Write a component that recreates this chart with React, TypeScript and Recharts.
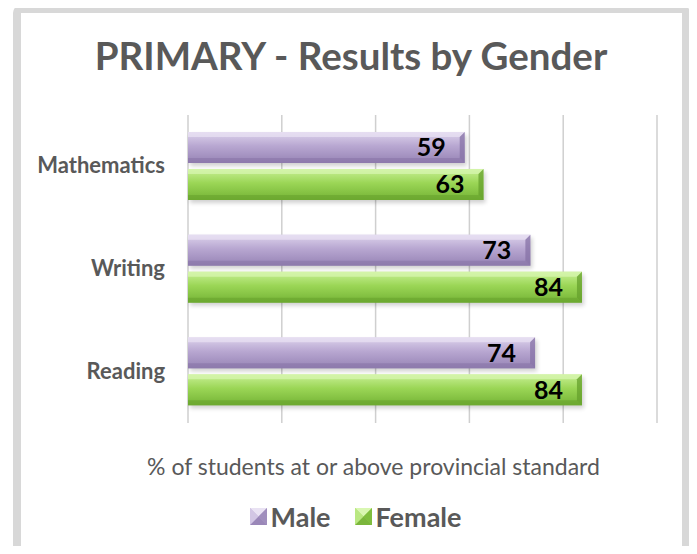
import React from "react";
import {
  BarChart,
  Bar,
  XAxis,
  YAxis,
  CartesianGrid,
  Legend,
  LabelList,
} from "recharts";

const subjects = ["Mathematics", "Writing", "Reading"];
const maleValues = [59, 73, 74];
const femaleValues = [63, 84, 84];
const xTicks = [0, 20, 40, 60, 80, 100];

const FONT = "Lato, 'Open Sans', sans-serif";
const GRAY_TEXT = "#595959";

const PALETTE = {
  male: { top: "#ddd3ec", mid: "#b8a7d1", bottom: "#9683b5", light: "#e9e2f3", dark: "#8672a6" },
  female: { top: "#c8f095", mid: "#9bd656", bottom: "#74b335", light: "#d9f7b2", dark: "#66a02c" },
};

type Pal = typeof PALETTE.male;

function bevelShape(id: string, pal: Pal) {
  return (props: any) => {
    const { x, y, width, height } = props;
    if (!width || width <= 0) return <g />;
    const b = 5;
    const r = x + width;
    const btm = y + height;
    return (
      <g>
        <rect x={x + 2} y={y + 3} width={width} height={height} fill="#000" opacity={0.18} filter="url(#barShadow)" />
        <rect x={x} y={y} width={width} height={height} fill={`url(#${id})`} />
        <polygon points={`${x},${y} ${r},${y} ${r - b},${y + b} ${x},${y + b}`} fill={pal.light} opacity={0.7} />
        <polygon points={`${x},${btm - b} ${r - b},${btm - b} ${r},${btm} ${x},${btm}`} fill={pal.dark} opacity={0.55} />
        <polygon points={`${r - b},${y + b} ${r},${y} ${r},${btm} ${r - b},${btm - b}`} fill={pal.dark} opacity={0.75} />
      </g>
    );
  };
}

function Icon({ pal }: { pal: Pal }) {
  return (
    <svg width={17} height={17} style={{ marginRight: 4 }}>
      <rect x={0} y={0} width={17} height={17} fill={pal.mid} />
      <polygon points="0,0 17,0 8.5,8.5" fill={pal.light} />
      <polygon points="0,17 17,17 8.5,8.5" fill={pal.dark} opacity={0.6} />
      <polygon points="0,0 0,17 8.5,8.5" fill={pal.top} opacity={0.7} />
      <polygon points="17,0 17,17 8.5,8.5" fill={pal.bottom} opacity={0.7} />
    </svg>
  );
}

function LegendContent() {
  return (
    <div style={{ display: "flex", justifyContent: "center", alignItems: "center", fontFamily: FONT, fontWeight: 700, fontSize: 27, color: GRAY_TEXT, marginLeft: 14 }}>
      <span style={{ display: "flex", alignItems: "center", marginRight: 24 }}>
        <Icon pal={PALETTE.male} />
        Male
      </span>
      <span style={{ display: "flex", alignItems: "center" }}>
        <Icon pal={PALETTE.female} />
        Female
      </span>
    </div>
  );
}

function CategoryTick(props: any) {
  const { y, payload } = props;
  return (
    <text x={165} y={y} dy={7} textAnchor="end" fontFamily={FONT} fontWeight={700} fontSize={22} fill={GRAY_TEXT}>
      {payload.value}
    </text>
  );
}

function NoTick() {
  return <g />;
}

const data = subjects.map((s, i) => ({ subject: s, Male: maleValues[i], Female: femaleValues[i] }));

const maleShape = bevelShape("gMale", PALETTE.male);
const femaleShape = bevelShape("gFemale", PALETTE.female);

export default function App() {
  return (
    <div style={{ position: "relative", margin: -8, width: 697, height: 554, background: "#fff", overflow: "hidden" }}>
      <div
        style={{
          position: "absolute",
          left: 13,
          top: 5,
          width: 677,
          height: 600,
          boxSizing: "border-box",
          border: "8px solid #d8d8d8",
          borderRadius: 8,
        }}
      />
      <div
        style={{
          position: "absolute",
          left: 0,
          top: 32,
          width: 702,
          textAlign: "center",
          fontFamily: FONT,
          fontWeight: 700,
          fontSize: 38.5,
          color: GRAY_TEXT,
        }}
      >
        PRIMARY - Results by Gender
      </div>
      <div style={{ position: "absolute", left: 0, top: 0 }}>
        <BarChart
          width={697}
          height={554}
          data={data}
          layout="vertical"
          margin={{ top: 115, right: 40, bottom: 71, left: 10 }}
          barCategoryGap={18}
          barGap={6}
        >
          <defs>
            <linearGradient id="gMale" x1="0" y1="0" x2="0" y2="1">
              <stop offset="0" stopColor={PALETTE.male.top} />
              <stop offset="0.45" stopColor={PALETTE.male.mid} />
              <stop offset="1" stopColor={PALETTE.male.bottom} />
            </linearGradient>
            <linearGradient id="gFemale" x1="0" y1="0" x2="0" y2="1">
              <stop offset="0" stopColor={PALETTE.female.top} />
              <stop offset="0.45" stopColor={PALETTE.female.mid} />
              <stop offset="1" stopColor={PALETTE.female.bottom} />
            </linearGradient>
            <filter id="barShadow" x="-5%" y="-30%" width="110%" height="160%">
              <feGaussianBlur stdDeviation="2" />
            </filter>
          </defs>
          <CartesianGrid horizontal={false} stroke="#cfcfcf" strokeWidth={1.5} />
          <XAxis
            type="number"
            domain={[0, 100]}
            ticks={xTicks}
            interval={0}
            tick={<NoTick />}
            tickLine={false}
            axisLine={false}
            height={60}
            label={{
              value: "% of students at or above provincial standard",
              position: "insideBottom",
              offset: 8,
              dx: -49,
              fill: GRAY_TEXT,
              fontFamily: FONT,
              fontSize: 23,
            }}
          />
          <YAxis
            type="category"
            dataKey="subject"
            width={178}
            axisLine={false}
            tickLine={false}
            tick={<CategoryTick />}
          />
          <Legend
            content={<LegendContent />}
            verticalAlign="middle"
            align="center"
            wrapperStyle={{ top: 500, left: 0, width: 697 }}
          />
          <Bar dataKey="Male" barSize={31} shape={maleShape} isAnimationActive={false}>
            <LabelList dataKey="Male" position="insideRight" offset={19} fill="#000" fontFamily={FONT} fontWeight={700} fontSize={25} />
          </Bar>
          <Bar dataKey="Female" barSize={31} shape={femaleShape} isAnimationActive={false}>
            <LabelList dataKey="Female" position="insideRight" offset={19} fill="#000" fontFamily={FONT} fontWeight={700} fontSize={25} />
          </Bar>
        </BarChart>
      </div>
    </div>
  );
}
